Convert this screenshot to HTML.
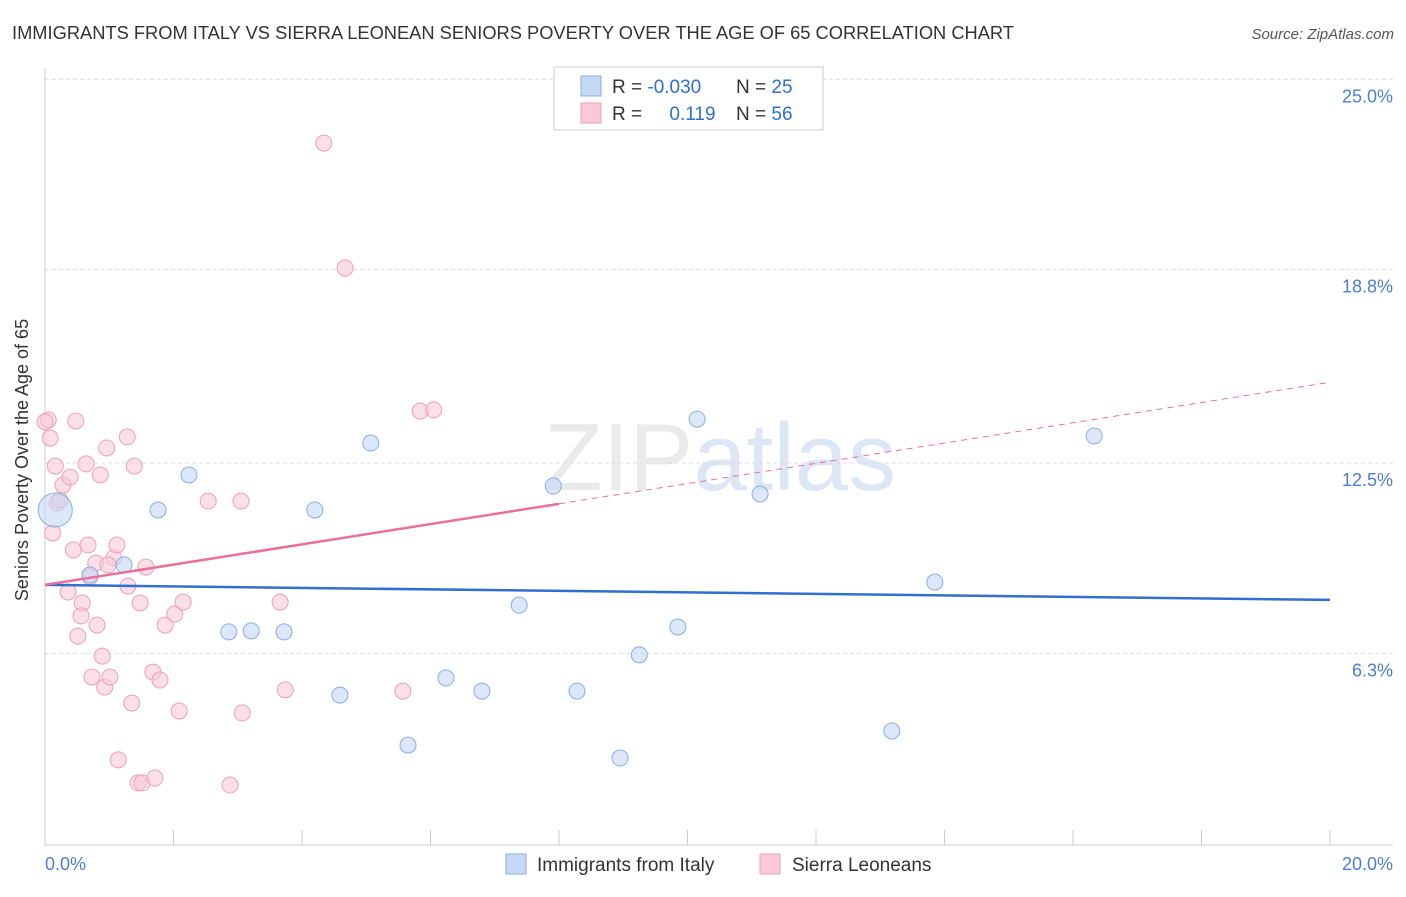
<!DOCTYPE html>
<html><head><meta charset="utf-8"><style>
body{margin:0;background:#fff;font-family:"Liberation Sans",sans-serif}
svg text{font-family:"Liberation Sans",sans-serif}
</style></head><body>
<svg width="1406" height="892" xmlns="http://www.w3.org/2000/svg">
<text x="12" y="39" font-size="18.3" fill="#333">IMMIGRANTS FROM ITALY VS SIERRA LEONEAN SENIORS POVERTY OVER THE AGE OF 65 CORRELATION CHART</text>
<text x="1394" y="39" font-size="15" fill="#555" text-anchor="end" font-style="italic">Source: ZipAtlas.com</text>
<text x="720" y="490" font-size="96" fill="#ddd" text-anchor="middle" font-family="Liberation Serif" opacity="0.6">ZIP<tspan fill="#c5d7ee" font-family="Liberation Sans">atlas</tspan></text>
<g id="grid"></g>
<line x1="45" y1="68" x2="45" y2="845" stroke="#ccc"/>
<line x1="45" y1="845" x2="1393" y2="845" stroke="#ccc"/>
<text x="24" y="456" font-size="18" fill="#333" text-anchor="middle" transform="rotate(-90 28 456)">Seniors Poverty Over the Age of 65</text>
<text x="45" y="870" font-size="18" fill="#4a7fd0">0.0%</text>
<text x="1393" y="870" font-size="18" fill="#4a7fd0" text-anchor="end">20.0%</text>
<g id="pts"></g>
<g id="lines"></g>
<g>
<rect x="554" y="67" width="269" height="63" fill="#fff" stroke="#ccc"/>
<rect x="581" y="76" width="20" height="20" fill="#c5d9f5" stroke="#88aee0"/>
<rect x="581" y="103" width="20" height="20" fill="#f9c9d8" stroke="#eda0ba"/>
<text x="612" y="93" font-size="19" fill="#333">R = <tspan fill="#2f6fd0">-0.030</tspan></text>
<text x="736" y="93" font-size="19" fill="#333">N = <tspan fill="#2f6fd0">25</tspan></text>
<text x="612" y="120" font-size="19" fill="#333">R = <tspan fill="#2f6fd0" dx="22">0.119</tspan></text>
<text x="736" y="120" font-size="19" fill="#333">N = <tspan fill="#2f6fd0">56</tspan></text>
</g>
<g>
<rect x="506" y="854" width="20" height="20" fill="#c5d9f5" stroke="#88aee0"/>
<text x="537" y="871" font-size="19" fill="#333">Immigrants from Italy</text>
<rect x="760" y="854" width="20" height="20" fill="#f9c9d8" stroke="#eda0ba"/>
<text x="792" y="871" font-size="19" fill="#333">Sierra Leoneans</text>
</g>
</svg>
<script>
const yTicks=[6.3,12.5,18.8,25.0];
const xTicks=[0,2,4,6,8,10,12,14,16,18,20];
const blueX=[0.16,0.70,1.23,1.76,2.24,2.86,3.21,3.72,4.20,4.59,5.07,5.65,6.24,6.80,7.38,7.91,8.28,8.95,9.25,9.85,10.15,11.13,13.18,13.85,16.33];
const blueY=[10.97,8.85,9.18,10.97,12.11,7.00,7.03,7.00,10.97,4.94,13.15,3.31,5.50,5.07,7.87,11.75,5.07,2.89,6.25,7.16,13.93,11.49,3.77,8.62,13.38];
const pinkX=[0.05,0.08,0.12,0.16,0.19,0.23,0.28,0.36,0.39,0.44,0.48,0.51,0.58,0.56,0.64,0.67,0.70,0.73,0.79,0.81,0.86,0.89,0.93,0.96,1.01,1.07,1.12,1.14,1.28,1.29,1.35,1.39,1.45,1.48,1.51,1.57,1.68,1.71,1.79,1.87,2.02,2.09,2.15,2.54,2.88,3.05,3.07,3.66,3.74,4.34,4.67,5.57,5.84,6.05,0.0,0.98];
const pinkY=[13.90,13.31,10.22,12.40,11.20,11.29,11.78,8.30,12.04,9.67,13.87,6.86,7.94,7.52,12.47,9.83,8.79,5.53,9.24,7.22,12.11,6.21,5.20,12.99,5.53,9.41,9.83,2.83,13.35,8.49,4.68,12.40,2.08,7.94,2.08,9.11,5.69,2.24,5.43,7.22,7.58,4.42,7.97,11.26,2.01,11.26,4.36,7.97,5.11,22.92,18.85,5.07,14.19,14.23,13.84,9.18];
const blueTrend=[8.53,-0.0245];
const pinkTrend=[8.53,0.33];
const X=v=>45+v*64.25, Y=v=>463-(v-12.5)*30.7;
const ns="http://www.w3.org/2000/svg";
function mk(t,a,p){const e=document.createElementNS(ns,t);for(const k in a)e.setAttribute(k,a[k]);document.getElementById(p).appendChild(e);return e;}
yTicks.forEach(t=>{
 const l=mk('line',{x1:45,x2:1393,y1:Y(t),y2:Y(t),stroke:'#ddd','stroke-dasharray':'4,3'},'grid');
 
 
 const tx=mk('text',{x:1393,y:Y(t)+23,'font-size':18,fill:'#4a7fd0','text-anchor':'end'},'grid');
 tx.textContent=t.toFixed(1)+'%';
 
 
});
xTicks.forEach(t=>{
 const l=mk('line',{x1:X(t),x2:X(t),y1:830,y2:845,stroke:'#ccc'},'grid');
 
 
});
pinkX.forEach((x,i)=>{
 const c=mk('circle',{cx:X(x),cy:Y(pinkY[i]),r:8,fill:'#f9c9d8','fill-opacity':0.6,stroke:'#eda0ba'},'pts');
 
 
});
blueX.forEach((x,i)=>{
 const c=mk('circle',{cx:X(x),cy:Y(blueY[i]),r:i==0?17:8,fill:'#c5d9f5','fill-opacity':0.6,stroke:'#88aee0'},'pts');
 
 
});
const bl=mk('line',{x1:X(0),y1:Y(blueTrend[0]),x2:X(20),y2:Y(blueTrend[0]+blueTrend[1]*20),stroke:'#2f6fd0','stroke-width':2.5},'lines');


const ps=mk('line',{x1:X(0),y1:Y(pinkTrend[0]),x2:X(8),y2:Y(pinkTrend[0]+pinkTrend[1]*8),stroke:'#e8709a','stroke-width':2.5},'lines');


const pd=mk('line',{x1:X(8),y1:Y(pinkTrend[0]+pinkTrend[1]*8),x2:X(19.95),y2:Y(pinkTrend[0]+pinkTrend[1]*19.95),stroke:'#e8709a','stroke-width':1,'stroke-dasharray':'6,5'},'lines');


</script>
</body></html>
